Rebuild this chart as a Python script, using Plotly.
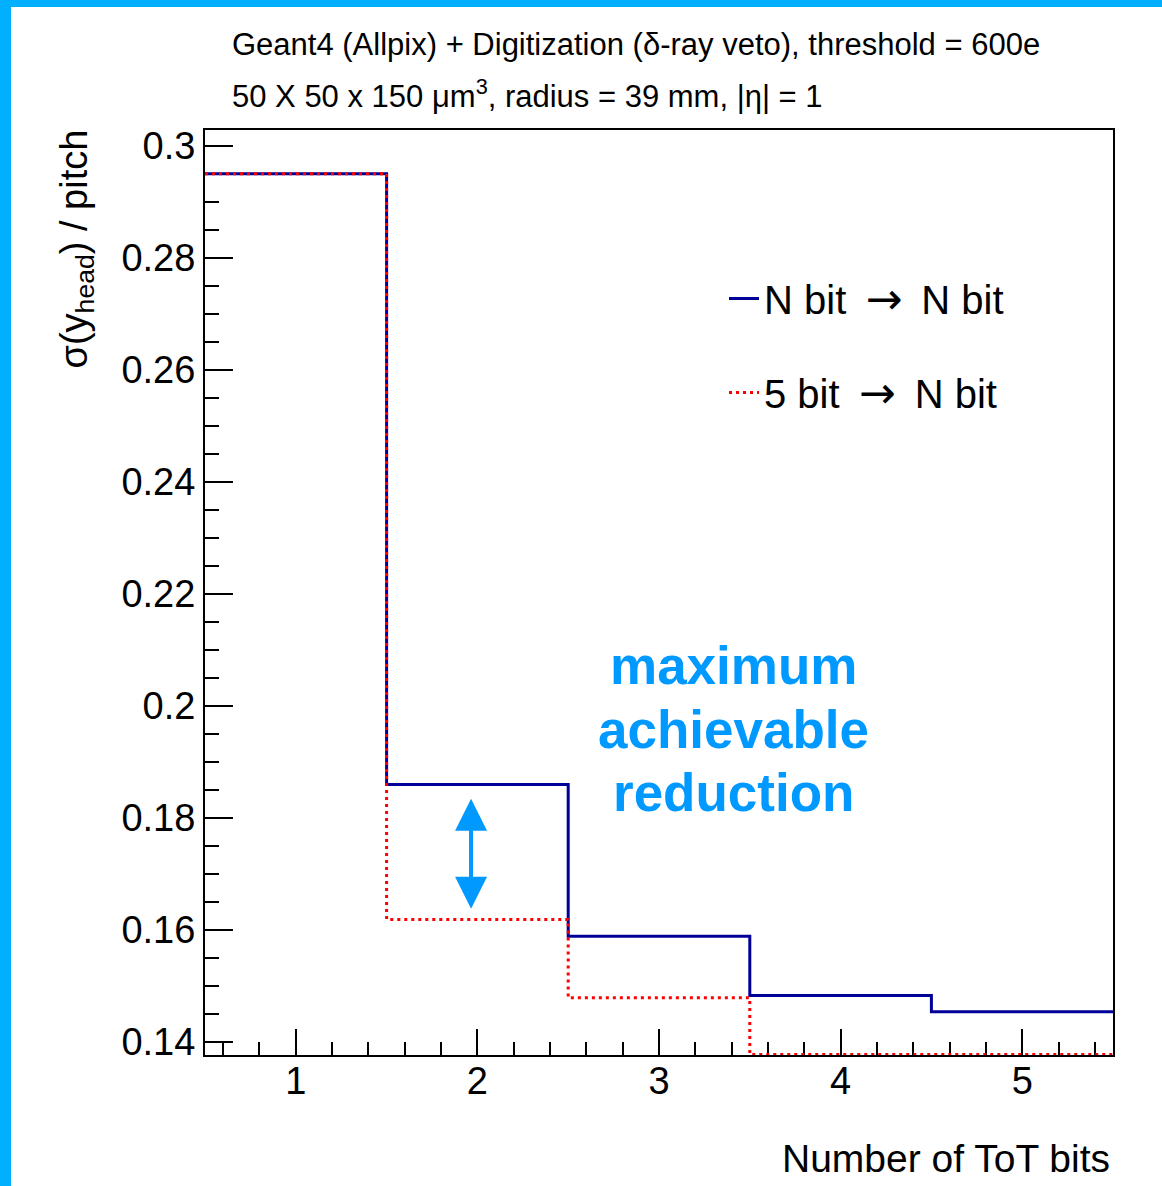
import plotly.graph_objects as go

# Number of ToT bits (bin centres) and resolution values per bin
tot_bits = [1, 2, 3, 4, 5]
sigma_n_to_n = [0.2950, 0.1860, 0.1589, 0.1483, 0.1454]
sigma_5_to_n = [0.2950, 0.1619, 0.1479, 0.1378, 0.1378]

y_range = [0.1377, 0.3028]
x_range = [0.5, 5.5]

W, H = 1162, 1186
ML, MR, MT, MB = 205, 49, 130, 131
PW, PH = W - ML - MR, H - MT - MB

FONT = "Liberation Sans, Arial, Helvetica, sans-serif"
ACCENT = "#0099ff"
ARROW = ' \u2009<span style="font-family:DejaVu Sans;font-size:44px">\u2192</span>\u2009 '


def step_xy(centres, values):
    edges = [c - 0.5 for c in centres] + [centres[-1] + 0.5]
    return edges, list(values) + [values[-1]]


def px_x(p):
    return (p - ML) / PW


def px_y(p):
    return (H - MB - p) / PH


fig = go.Figure()

xs, ys = step_xy(tot_bits, sigma_n_to_n)
fig.add_trace(go.Scatter(
    x=xs, y=ys, mode="lines", line=dict(shape="hv", color="#000099", width=3),
    name=f"N bit{ARROW}N bit", legendgroup="a",
))
xs, ys = step_xy(tot_bits, sigma_5_to_n)
fig.add_trace(go.Scatter(
    x=xs, y=ys, mode="lines",
    line=dict(shape="hv", color="#ff0000", width=3, dash="3px,4px"),
    name=f"5 bit{ARROW}N bit", legendgroup="b",
))

# Frame strip along the top and left edges of the canvas
fig.add_shape(type="rect", xref="paper", yref="paper",
              x0=px_x(0), x1=px_x(W), y0=px_y(7), y1=px_y(0),
              fillcolor="#00b0ff", line_width=0, layer="above")
fig.add_shape(type="rect", xref="paper", yref="paper",
              x0=px_x(0), x1=px_x(11), y0=px_y(H), y1=px_y(0),
              fillcolor="#00b0ff", line_width=0, layer="above")

# Header lines
fig.add_annotation(xref="paper", yref="paper", x=px_x(230), y=px_y(44),
                   xanchor="left", yanchor="middle", showarrow=False,
                   text="Geant4 (Allpix) + Digitization (\u03b4-ray veto), threshold = 600e",
                   font=dict(family=FONT, size=31, color="black"))
fig.add_annotation(xref="paper", yref="paper", x=px_x(230), y=px_y(94),
                   xanchor="left", yanchor="middle", showarrow=False,
                   text="50 X 50 x 150 \u03bcm<sup>3</sup>, radius = 39 mm, |\u03b7| = 1",
                   font=dict(family=FONT, size=31, color="black"))

# Axis titles, aligned to the far ends of the axes
fig.add_annotation(xref="paper", yref="paper", x=px_x(1112), y=px_y(1158),
                   xanchor="right", yanchor="middle", showarrow=False,
                   text="Number of ToT bits",
                   font=dict(family=FONT, size=39, color="black"))
fig.add_annotation(xref="paper", yref="paper", x=px_x(76), y=px_y(128),
                   xanchor="center", yanchor="top", showarrow=False,
                   textangle=-90, text="\u03c3(y<sub>head</sub>) / pitch",
                   font=dict(family=FONT, size=38, color="black"))

# Highlight of the gap between the two curves
fig.add_annotation(x=1.965, y=0.1638, ax=1.965, ay=0.1837, xref="x", yref="y",
                   axref="x", ayref="y", text="", showarrow=True,
                   arrowhead=2, arrowside="end+start", arrowsize=1.6,
                   arrowwidth=4, arrowcolor=ACCENT)
for word, ypx in [("maximum", 665), ("achievable", 729), ("reduction", 792)]:
    fig.add_annotation(xref="paper", yref="paper", x=px_x(733), y=px_y(ypx),
                       showarrow=False, text=f"<b>{word}</b>",
                       xanchor="center", yanchor="middle",
                       font=dict(family=FONT, size=53, color=ACCENT))

fig.update_layout(
    width=W, height=H,
    margin=dict(l=ML, r=MR, t=MT, b=MB, pad=0),
    paper_bgcolor="white", plot_bgcolor="white",
    font=dict(family=FONT, color="black"),
    showlegend=True,
    legend=dict(x=px_x(724), y=px_y(266), xanchor="left", yanchor="top",
                bgcolor="rgba(0,0,0,0)", traceorder="grouped",
                tracegroupgap=39, itemwidth=30,
                font=dict(family=FONT, size=40, color="black")),
)

fig.update_xaxes(
    range=x_range, tickmode="array", tickvals=tot_bits,
    ticks="inside", ticklen=26, tickwidth=2, tickcolor="black",
    showline=True, linecolor="black", linewidth=2, mirror=True,
    showgrid=False, zeroline=False, layer="below traces",
    tickfont=dict(family=FONT, size=38, color="black"),
    ticklabelstandoff=-9,
    minor=dict(dtick=0.2, tick0=0.4, ticks="inside", ticklen=13,
               tickwidth=2, tickcolor="black", showgrid=False),
)
fig.update_yaxes(
    range=y_range, tick0=0.14, dtick=0.02,
    ticks="inside", ticklen=28, tickwidth=2, tickcolor="black",
    showline=True, linecolor="black", linewidth=2, mirror=True,
    showgrid=False, zeroline=False, layer="below traces",
    tickformat="~g",
    tickfont=dict(family=FONT, size=38, color="black"),
    minor=dict(dtick=0.005, tick0=0.14, ticks="inside", ticklen=14,
               tickwidth=2, tickcolor="black", showgrid=False),
)

fig.write_html("out.html")
